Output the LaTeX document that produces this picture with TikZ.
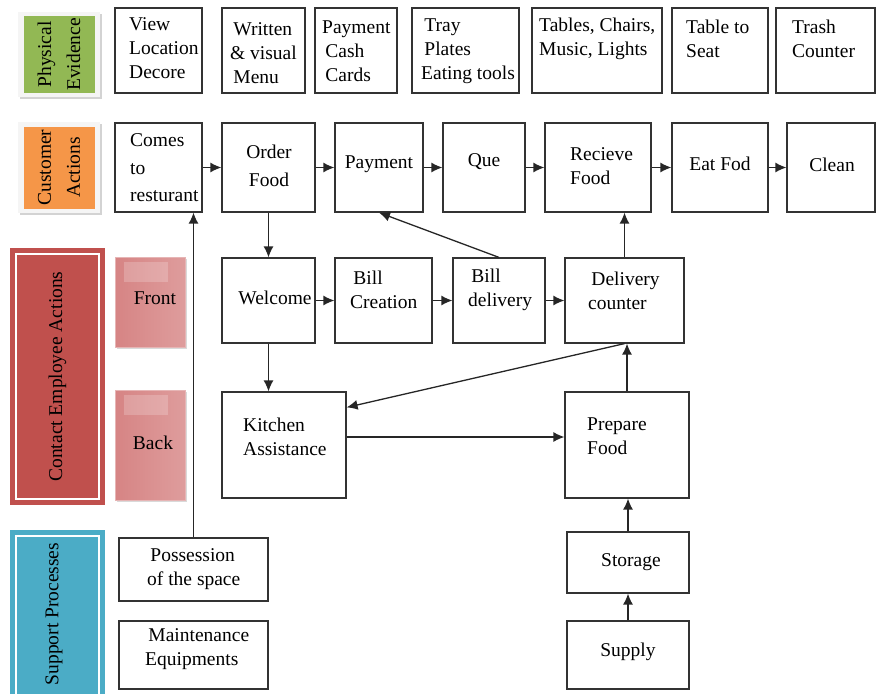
\documentclass[tikz,border=0pt]{standalone}
\usepackage{fontspec}
\setmainfont{Liberation Serif}
\usepackage{tikz}
\usetikzlibrary{arrows, arrows.meta, positioning, shadows}
\definecolor{evgreen}{RGB}{146,184,84}
\definecolor{custorange}{RGB}{245,150,72}
\definecolor{contactred}{RGB}{192,80,77}
\definecolor{supportblue}{RGB}{75,172,198}
\definecolor{pinkdark}{RGB}{214,132,132}
\definecolor{pinklight}{RGB}{250,232,232}

\tikzset{
  box/.style={rectangle, draw=black!80, line width=1.2pt, fill=white, inner sep=0pt},
  txt/.style={inner sep=0pt, align=left, font=\fontsize{19.5}{24}\selectfont},
  lane/.style={rectangle, inner sep=0pt},
  sidebox/.style={rectangle, inner sep=0pt, draw=pinkdark!60, line width=0.6pt,
    left color=pinkdark, middle color=pinklight, right color=pinkdark!80,
    drop shadow={shadow xshift=1.5pt, shadow yshift=-1.5pt, opacity=.3}},
  flow/.style={-{Latex[length=11pt,width=10pt]}, line width=1.3pt, black!85}
}

\begin{document}
\begin{tikzpicture}[x=1pt, y=-1pt]
    \useasboundingbox (0,0) rectangle (877,693);

    % Lane labels
    \node[lane, fill=gray!8, drop shadow={shadow xshift=2pt, shadow yshift=-2pt, opacity=.35}, minimum width=82pt, minimum height=85pt] (physical) at (59,54.5) {};
    \node[lane, fill=evgreen, minimum width=71pt, minimum height=77pt] (physfill) at (physical) {};
    \node[txt, align=center, rotate=90] (physlbl) at (physical) {Physical\\[5pt]Evidence};

    \node[lane, fill=gray!8, drop shadow={shadow xshift=2pt, shadow yshift=-2pt, opacity=.35}, minimum width=82pt, minimum height=91pt] (customer) at (59,167.5) {};
    \node[lane, fill=custorange, minimum width=71pt, minimum height=82pt] (custfill) at (customer) {};
    \node[txt, align=center, rotate=90] (custlbl) at (customer) {Customer\\[5pt]Actions};

    \node[lane, fill=contactred, minimum width=95pt, minimum height=257pt] (contact) at (57.5,376.5) {};
    \draw[white, line width=1.5pt] ([shift={(6pt,-6pt)}]contact.north west) rectangle ([shift={(-6pt,6pt)}]contact.south east);
    \node[txt, rotate=90] (contactlbl) at (contact) {Contact Employee Actions};

    \node[lane, fill=supportblue, minimum width=95pt, minimum height=175pt] (support) at (57.5,617.5) {};
    \draw[white, line width=1.5pt] ([shift={(6pt,-6pt)}]support.north west) rectangle ([shift={(-6pt,6pt)}]support.south east);
    \node[txt, rotate=90] (supportlbl) at (54,614) {Support Processes};

    % Front / Back
    \node[sidebox, minimum width=70pt, minimum height=90pt] (front) at (150,302) {};
    \node[lane, fill=white, opacity=.2, minimum width=44pt, minimum height=20pt] (frontshine) at (146,272) {};
    \node[txt] (frontlbl) at (155,298) {Front};
    \node[sidebox, minimum width=70pt, minimum height=110pt] (back) at (150,445) {};
    \node[lane, fill=white, opacity=.2, minimum width=44pt, minimum height=20pt] (backshine) at (146,405) {};
    \node[txt] (backlbl) at (153,443) {Back};

    % Physical evidence
    \node[box, minimum width=87pt, minimum height=85pt] (view) at (158.5,50.5) {};
    \node[txt, anchor=west] at (129,48) {View\\Location\\Decore};
    \node[box, minimum width=83pt, minimum height=85pt] (menu) at (263.5,50.5) {};
    \node[txt, anchor=west] at (230,53) {\,Written\\\& visual\\\,Menu};
    \node[box, minimum width=82pt, minimum height=85pt] (cash) at (356,50.5) {};
    \node[txt, anchor=west] at (322,51) {Payment\\\,Cash\\\,Cards};
    \node[box, minimum width=107pt, minimum height=85pt] (tray) at (465.5,50.5) {};
    \node[txt, anchor=west] at (421,51) {\,Tray\\\,Plates\\Eating tools};
    \node[box, minimum width=130pt, minimum height=85pt] (tables) at (597,50.5) {};
    \node[txt, anchor=west] at (539,39) {Tables, Chairs,\\Music, Lights};
    \node[box, minimum width=96pt, minimum height=85pt] (seat) at (720,50.5) {};
    \node[txt, anchor=west] at (686,39) {Table to\\Seat};
    \node[box, minimum width=99pt, minimum height=85pt] (trash) at (825.5,50.5) {};
    \node[txt, anchor=west] at (792,39) {Trash\\Counter};

    % Customer actions
    \node[box, minimum width=87pt, minimum height=89pt] (comes) at (158.5,167.5) {};
    \node[txt, anchor=west] at (130,168) {Comes\\[3.5pt]to\\[3.5pt]resturant};
    \node[box, minimum width=93pt, minimum height=89pt] (order) at (268.5,167.5) {};
    \node[txt, align=center] at (269,166) {Order\\[4pt]Food};
    \node[box, minimum width=88pt, minimum height=89pt] (pay) at (379,167.5) {};
    \node[txt] at (379,164) {Payment};
    \node[box, minimum width=82pt, minimum height=89pt] (que) at (484,167.5) {};
    \node[txt] at (484,162) {Que};
    \node[box, minimum width=106pt, minimum height=89pt] (receive) at (598,167.5) {};
    \node[txt, anchor=west] at (570,166) {Recieve\\Food};
    \node[box, minimum width=96pt, minimum height=89pt] (eat) at (720,167.5) {};
    \node[txt] at (720,164) {Eat Fod};
    \node[box, minimum width=88pt, minimum height=89pt] (clean) at (831,167.5) {};
    \node[txt] at (832,165) {Clean};

    % Front
    \node[box, minimum width=93pt, minimum height=85pt] (welcome) at (268.5,300.5) {};
    \node[txt] at (275,298) {Welcome};
    \node[box, minimum width=97pt, minimum height=85pt] (bill) at (383.5,300.5) {};
    \node[txt, anchor=west] at (350,290) {\,Bill\\Creation};
    \node[box, minimum width=92pt, minimum height=85pt] (billdel) at (499,300.5) {};
    \node[txt, anchor=west] at (468,290) {\,Bill\\delivery};
    \node[box, minimum width=119pt, minimum height=85pt] (counter) at (624.5,300.5) {};
    \node[txt, anchor=west] at (588,291) {\,Delivery\\counter};

    % Back
    \node[box, minimum width=124pt, minimum height=106pt] (kitchen) at (284,445) {};
    \node[txt, anchor=west] at (243,437) {Kitchen\\Assistance};
    \node[box, minimum width=124pt, minimum height=106pt] (prepare) at (627,445) {};
    \node[txt, anchor=west] at (587,436) {Prepare\\Food};

    % Support
    \node[box, minimum width=149pt, minimum height=63pt] (possession) at (193.5,569.5) {};
    \node[txt, anchor=west] at (147,569.5) {\,Possession\\of the space};
    \node[box, minimum width=149pt, minimum height=68pt] (maint) at (193.5,655) {};
    \node[txt, anchor=west] at (145,649) {\,Maintenance\\Equipments};
    \node[box, minimum width=122pt, minimum height=61pt] (storage) at (628,562.5) {};
    \node[txt] at (631,562) {Storage};
    \node[box, minimum width=122pt, minimum height=68pt] (supply) at (628,655) {};
    \node[txt] at (628,652) {Supply};

    % Flow
    \draw[flow] (comes) -- (order);
    \draw[flow] (order) -- (pay);
    \draw[flow] (pay) -- (que);
    \draw[flow] (que) -- (receive);
    \draw[flow] (receive) -- (eat);
    \draw[flow] (eat) -- (clean);
    \draw[flow] (order.south) -- (welcome.north);
    \draw[flow] (welcome) -- (bill);
    \draw[flow] (bill) -- (billdel);
    \draw[flow] (billdel) -- (counter);
    \draw[flow] (billdel.north) -- (pay.south);
    \draw[flow] (counter.north) -- (counter.north |- receive.south);
    \draw[flow] (welcome.south) -- (welcome.south |- kitchen.north);
    \draw[flow] ([yshift=8pt]kitchen.east) -- ([yshift=8pt]prepare.west);
    \draw[flow] (prepare.north) -- (prepare.north |- counter.south);
    \draw[flow] (counter.south) -- ([yshift=-16pt]kitchen.north east);
    \draw[flow] (storage.north) -- (storage.north |- prepare.south);
    \draw[flow] (supply) -- (storage);
    \draw[flow] (possession.north) -- (possession.north |- comes.south);
\end{tikzpicture}
\end{document}
